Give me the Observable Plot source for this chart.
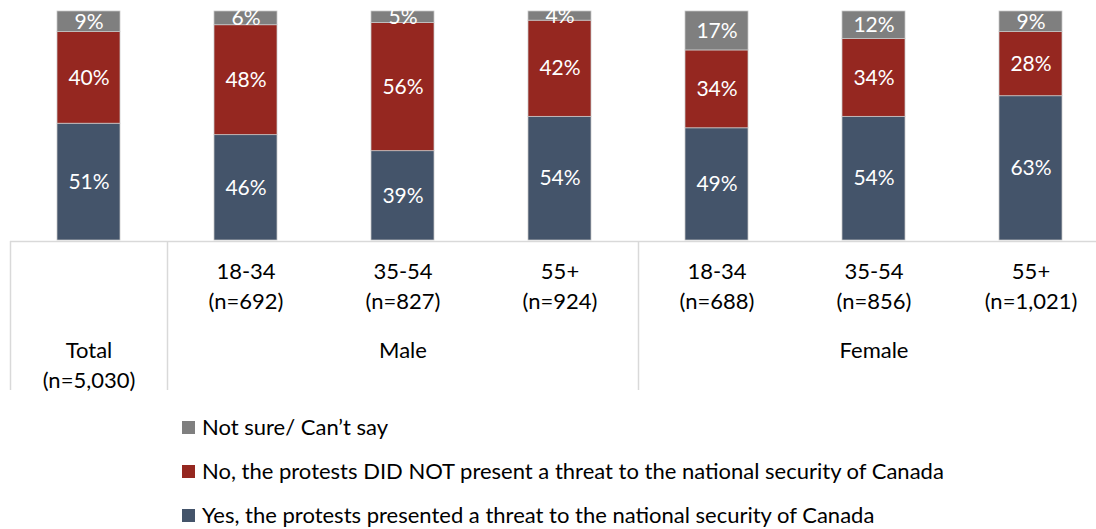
<!DOCTYPE html>
<html>
<head>
<meta charset="utf-8">
<script src="https://cdn.jsdelivr.net/npm/d3@7"></script>
<script src="https://cdn.jsdelivr.net/npm/@observablehq/plot@0.6"></script>
<style>
  body { margin: 0; background: #fff; font-family: Lato, "Open Sans", sans-serif; }
  #chart svg { display: block; overflow: hidden; }
  #legend { margin-top: 10px; padding-left: 182px; }
  .row { display: flex; align-items: center; height: 44px; font-size: 22px; line-height: 26px; color: #000; white-space: nowrap; }
  .sw { width: 13px; height: 13px; margin-right: 7px; flex: none; }
</style>
</head>
<body>
<div id="chart"></div>
<div id="legend"></div>
<script>
// Columns of the chart (one stacked bar each)
const categories = ["Total", "Male 18-34", "Male 35-54", "Male 55+", "Female 18-34", "Female 35-54", "Female 55+"];
const ageLabels = ["", "18-34", "35-54", "55+", "18-34", "35-54", "55+"];
const sampleSizes = ["(n=5,030)", "(n=692)", "(n=827)", "(n=924)", "(n=688)", "(n=856)", "(n=1,021)"];

// Share of respondents (%) per answer
const yesValues = [51, 46, 39, 54, 49, 54, 63];
const noValues = [40, 48, 56, 42, 34, 34, 28];
const notSureValues = [9, 6, 5, 4, 17, 12, 9];

const seriesNames = [
  "Yes, the protests presented a threat to the national security of Canada",
  "No, the protests DID NOT present a threat to the national security of Canada",
  "Not sure/ Can’t say"
];
const seriesColors = ["#44546A", "#952720", "#7F7F7F"];

// Group headers of the category table
const groupLabels = ["Male", "Female"];
const groupCenters = ["Male 35-54", "Female 35-54"];
const groupStarts = ["Total", "Male 18-34", "Female 18-34"];

const seriesValues = [yesValues, noValues, notSureValues];
const rows = [];
seriesValues.forEach((vals, s) => {
  vals.forEach((v, i) => rows.push({category: categories[i], series: seriesNames[s], value: v}));
});

const xRange = [10, 1109];
const step = (xRange[1] - xRange[0]) / categories.length;
const font = "Lato, 'Open Sans', sans-serif";

const chart = Plot.plot({
  width: 1096,
  height: 395,
  marginTop: 11,
  marginBottom: 155,
  marginLeft: 10,
  marginRight: 0,
  style: {fontFamily: font, background: "#fff"},
  x: {domain: categories, range: xRange, paddingInner: 0.6, paddingOuter: 0.3, axis: null},
  y: {domain: [0, 100], axis: null},
  color: {domain: seriesNames, range: seriesColors},
  marks: [
    Plot.barY(rows, {x: "category", y: "value", fill: "series", stroke: "#c8c8c8", strokeWidth: 0.75}),
    Plot.text(rows, Plot.stackY({x: "category", y: "value", text: d => d.value + "%", fill: "white", fontSize: 21})),
    // category table
    Plot.ruleY([0], {stroke: "#d9d9d9", strokeWidth: 1.5, dy: 1}),
    Plot.ruleX(groupStarts, {x: d => d, dx: -step / 2, stroke: "#d9d9d9", strokeWidth: 1.5, insetTop: 230, insetBottom: -150}),
    Plot.text(categories.slice(1), {
      x: d => d, frameAnchor: "bottom", lineAnchor: "top", dy: 17, lineHeight: 1.37,
      text: d => ageLabels[categories.indexOf(d)] + "\n" + sampleSizes[categories.indexOf(d)],
      fill: "#000", fontSize: 22
    }),
    Plot.text([categories[0]], {
      x: d => d, frameAnchor: "bottom", lineAnchor: "top", dy: 96, lineHeight: 1.37,
      text: d => d + "\n" + sampleSizes[0], fill: "#000", fontSize: 22
    }),
    Plot.text(groupLabels, {
      x: (d, i) => groupCenters[i], frameAnchor: "bottom", lineAnchor: "top", dy: 102,
      text: d => d, fill: "#000", fontSize: 22
    })
  ]
});
document.getElementById("chart").appendChild(chart);

// Legend, listed top series first
const legend = d3.select("#legend");
[2, 1, 0].forEach(s => {
  const row = legend.append("div").attr("class", "row");
  row.append("div").attr("class", "sw").style("background", seriesColors[s]);
  row.append("span").text(seriesNames[s]);
});
</script>
</body>
</html>
